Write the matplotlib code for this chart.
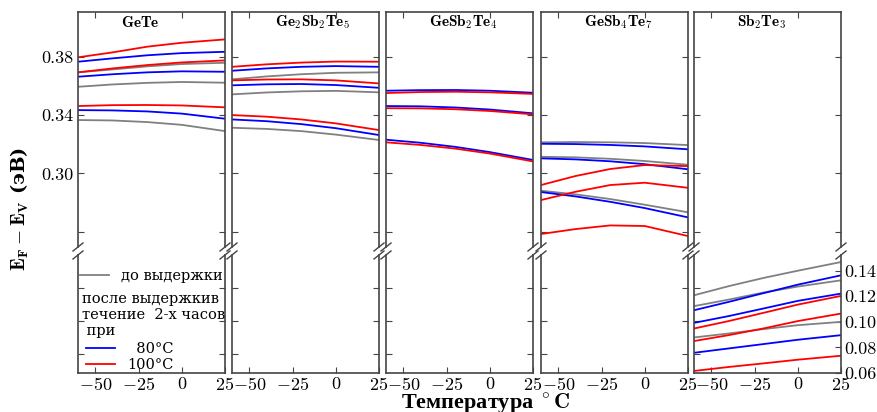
import matplotlib
matplotlib.use("Agg")
import matplotlib.pyplot as plt

plt.rcParams["font.family"] = ["cmr10", "DejaVu Serif"]
plt.rcParams["mathtext.fontset"] = "cm"
plt.rcParams["axes.formatter.use_mathtext"] = True
plt.rcParams["axes.unicode_minus"] = True

temps = [-60, -40, -20, 0, 25]

titles = [r"$\mathbf{GeTe}$",
          r"$\mathbf{Ge}_2\mathbf{Sb}_2\mathbf{Te}_5$",
          r"$\mathbf{GeSb}_2\mathbf{Te}_4$",
          r"$\mathbf{GeSb}_4\mathbf{Te}_7$",
          r"$\mathbf{Sb}_2\mathbf{Te}_3$"]

# energy levels (eV), before annealing (grey), after 2 h at 80C (blue) and 100C (red)
gete_grey = [[0.3693, 0.3713, 0.3734, 0.3750, 0.3759],
             [0.3594, 0.3610, 0.3621, 0.3627, 0.3622],
             [0.3366, 0.3363, 0.3352, 0.3333, 0.3290]]
gete_blue = [[0.3766, 0.3789, 0.3810, 0.3825, 0.3834],
             [0.3663, 0.3680, 0.3693, 0.3700, 0.3697],
             [0.3434, 0.3432, 0.3425, 0.3410, 0.3375]]
gete_red = [[0.3796, 0.3830, 0.3869, 0.3896, 0.3919],
            [0.3693, 0.3720, 0.3743, 0.3761, 0.3775],
            [0.3462, 0.3468, 0.3469, 0.3466, 0.3453]]

gst225_grey = [[0.3645, 0.3665, 0.3680, 0.3690, 0.3693],
               [0.3542, 0.3555, 0.3563, 0.3566, 0.3556],
               [0.3313, 0.3305, 0.3290, 0.3266, 0.3229]]
gst225_blue = [[0.3704, 0.3720, 0.3731, 0.3736, 0.3731],
               [0.3604, 0.3611, 0.3613, 0.3606, 0.3587],
               [0.3370, 0.3358, 0.3338, 0.3310, 0.3263]]
gst225_red = [[0.3731, 0.3748, 0.3760, 0.3767, 0.3766],
              [0.3638, 0.3644, 0.3645, 0.3638, 0.3617],
              [0.3400, 0.3389, 0.3370, 0.3343, 0.3297]]

gst124_grey = []
gst124_blue = [[0.3567, 0.3571, 0.3572, 0.3567, 0.3553],
               [0.3462, 0.3460, 0.3452, 0.3438, 0.3412],
               [0.3231, 0.3210, 0.3182, 0.3146, 0.3092]]
gst124_red = [[0.3551, 0.3558, 0.3560, 0.3556, 0.3545],
              [0.3447, 0.3446, 0.3440, 0.3428, 0.3405],
              [0.3213, 0.3195, 0.3170, 0.3136, 0.3082]]

gst147_grey = [[0.3213, 0.3215, 0.3213, 0.3208, 0.3194],
               [0.3114, 0.3110, 0.3100, 0.3085, 0.3059],
               [0.2881, 0.2856, 0.2824, 0.2785, 0.2733]]
gst147_blue = [[0.3203, 0.3201, 0.3195, 0.3185, 0.3165],
               [0.3103, 0.3096, 0.3083, 0.3063, 0.3028],
               [0.2872, 0.2842, 0.2805, 0.2762, 0.2698]]
gst147_red = [[0.2920, 0.2982, 0.3030, 0.3057, 0.3050],
              [0.2817, 0.2874, 0.2920, 0.2936, 0.2901],
              [0.2584, 0.2618, 0.2643, 0.2639, 0.2570]]

sbte_grey = [[0.1208, 0.1279, 0.1343, 0.1400, 0.1468],
             [0.1123, 0.1174, 0.1229, 0.1276, 0.1325],
             [0.0878, 0.0909, 0.0943, 0.0974, 0.1000]]
sbte_blue = [[0.1091, 0.1156, 0.1224, 0.1291, 0.1364],
             [0.0992, 0.1045, 0.1104, 0.1164, 0.1221],
             [0.0758, 0.0792, 0.0826, 0.0860, 0.0896]]
sbte_red = [[0.0948, 0.1006, 0.1070, 0.1135, 0.1203],
            [0.0850, 0.0896, 0.0948, 0.1006, 0.1065],
            [0.0616, 0.0647, 0.0675, 0.0704, 0.0735]]

top_data = [(gete_grey, gete_blue, gete_red),
            (gst225_grey, gst225_blue, gst225_red),
            (gst124_grey, gst124_blue, gst124_red),
            (gst147_grey, gst147_blue, gst147_red),
            None]
bottom_data = [None, None, None, None, (sbte_grey, sbte_blue, sbte_red)]

colors = ["gray", "blue", "red"]
spine_col = "#444444"

W, H = 878, 412
fig = plt.figure(figsize=(W / 100, H / 100), dpi=100)
lefts = [78, 232, 386, 541, 694]
width = 147


def px_axes(x0, y0, x1, y1):
    return fig.add_axes([x0 / W, 1 - y1 / H, (x1 - x0) / W, (y1 - y0) / H])


def break_marks(ax, where, dx, dy):
    y = 0 if where == "bottom" else 1
    for x in (0, 1):
        ax.plot([x - dx, x + dx], [y - dy, y + dy], transform=ax.transAxes,
                color=spine_col, lw=1.0, clip_on=False)


for i, x0 in enumerate(lefts):
    ax_t = px_axes(x0, 12, x0 + width, 247)
    ax_b = px_axes(x0, 255, x0 + width, 373)

    for ax in (ax_t, ax_b):
        ax.set_xlim(-60, 25)
        for s in ax.spines.values():
            s.set_color(spine_col)
            s.set_linewidth(1.2)
        ax.tick_params(direction="in", length=4, color=spine_col, labelsize=13)

    if top_data[i] is not None:
        for series, c in zip(top_data[i], colors):
            for vals in series:
                ax_t.plot(temps, vals, color=c, lw=1.3)
    if bottom_data[i] is not None:
        for series, c in zip(bottom_data[i], colors):
            for vals in series:
                ax_b.plot(temps, vals, color=c, lw=1.3)

    ax_t.set_ylim(0.2495, 0.4107)
    ax_b.set_ylim(0.06, 0.1523)

    ax_t.spines["bottom"].set_visible(False)
    ax_b.spines["top"].set_visible(False)

    ax_t.set_xticks([-50, 0])
    ax_t.tick_params(axis="x", bottom=False, top=True, labelbottom=False, labeltop=False)
    ax_t.set_yticks([0.26, 0.30, 0.34, 0.38])
    ax_t.tick_params(axis="y", left=True, right=True, labelleft=(i == 0), labelright=False, pad=3)
    if i == 0:
        ax_t.set_yticklabels(["", "0.30", "0.34", "0.38"])

    ax_b.set_xticks([-50, -25, 0, 25])
    ax_b.tick_params(axis="x", top=False, pad=2)
    if i == 4:
        ax_b.yaxis.tick_right()
        ax_b.set_yticks([0.06, 0.08, 0.10, 0.12, 0.14])
        ax_b.set_yticklabels(["0.06", "0.08", "0.10", "0.12", "0.14"])
        ax_b.tick_params(axis="y", right=True, left=False, labelright=True, pad=2)
        sec = ax_b.secondary_yaxis("left")
        sec.set_yticks([0.0751, 0.1008, 0.1265])
        sec.tick_params(direction="in", length=4, color=spine_col, labelleft=False)
        sec.spines["left"].set_visible(False)
    else:
        ax_b.set_yticks([0.0751, 0.1008, 0.1265])
        ax_b.tick_params(axis="y", left=True, right=True, labelleft=False)

    break_marks(ax_t, "bottom", 5 / width, 4 / 235)
    break_marks(ax_b, "top", 5 / width, 4 / 118)

    ax_t.text(-35, 0.955, titles[i], transform=ax_t.get_xaxis_transform(),
              ha="left", va="center", fontsize=11)

    if i == 0:
        leg1 = ax_b.legend(handles=[plt.Line2D([], [], color="gray", lw=1.3)],
                           labels=["до выдержки"], loc="center left",
                           bbox_to_anchor=(0.014, (373 - 276) / 118), frameon=False,
                           borderpad=0, borderaxespad=0, handlelength=2.0,
                           handletextpad=0.8, prop={"family": "DejaVu Serif", "size": 10.5})
        ax_b.add_artist(leg1)
        ax_b.text(0.03, (373 - 315) / 118,
                  "после выдержкив\nтечение  2-х часов\n при",
                  transform=ax_b.transAxes, ha="left", va="center",
                  family="DejaVu Serif", fontsize=10.5, linespacing=1.2)
        ax_b.legend(handles=[plt.Line2D([], [], color="blue", lw=1.3),
                             plt.Line2D([], [], color="red", lw=1.3)],
                    labels=["  80°C", "100°C"], loc="center left",
                    bbox_to_anchor=(0.054, (373 - 357) / 118), frameon=False,
                    borderpad=0, borderaxespad=0, handlelength=2.0,
                    handletextpad=0.8, labelspacing=0.1,
                    prop={"family": "DejaVu Serif", "size": 10.5})

fig.text(20 / W, 1 - 209 / H, r"$\mathbf{E_F - E_V}$ (эВ)", rotation=90,
         ha="center", va="center", fontsize=14, fontweight="bold",
         family=["DejaVu Serif"])
fig.text(486 / W, 1 - 409 / H, r"Температура $^\circ\mathbf{C}$", ha="center",
         va="baseline", fontsize=16, fontweight="bold", family=["Liberation Serif"])

fig.savefig("out.png", dpi=100)
